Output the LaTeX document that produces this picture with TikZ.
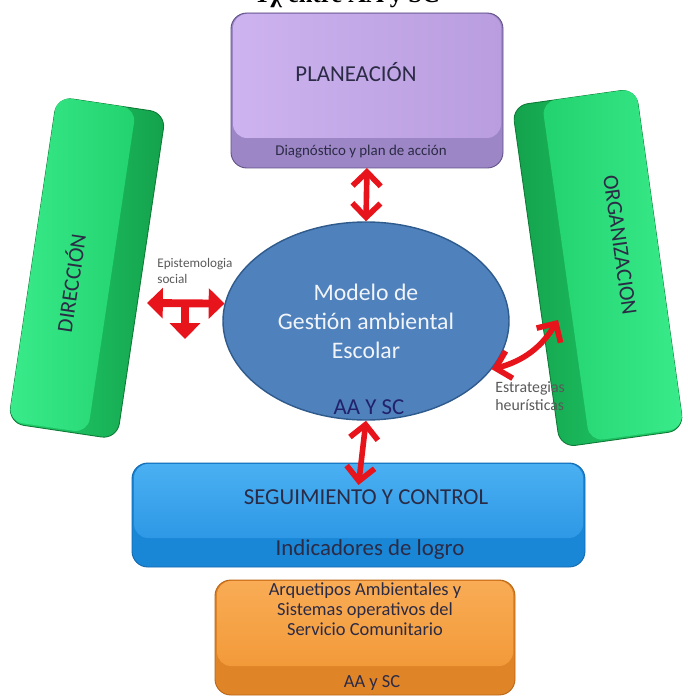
\documentclass[tikz,border=0pt]{standalone}
\usepackage{fontspec}
\setmainfont{Carlito}
\newfontfamily\titlefont{Liberation Serif}
\usepackage{tikz}
\usetikzlibrary{arrows.meta,positioning,calc,shapes.geometric}
\newcommand{\pxl}{0.02cm}
\definecolor{ink}{HTML}{2B2B45}
\definecolor{redarr}{HTML}{E8141B}
\definecolor{plana}{HTML}{CDB3EF}
\definecolor{planb}{HTML}{B99DDF}
\definecolor{planband}{HTML}{9D86C6}
\definecolor{planedge}{HTML}{5E4F85}
\definecolor{greena}{HTML}{3AEB8B}
\definecolor{greenb}{HTML}{22D26E}
\definecolor{greenside}{HTML}{14A24C}
\definecolor{greenedge}{HTML}{0E7A36}
\definecolor{elfill}{HTML}{4F81BD}
\definecolor{eledge}{HTML}{2F5A8C}
\definecolor{bluea}{HTML}{4AB0F2}
\definecolor{blueb}{HTML}{2E98E6}
\definecolor{blueband}{HTML}{1A86D6}
\definecolor{blueedge}{HTML}{1268AE}
\definecolor{orangea}{HTML}{F9AC55}
\definecolor{orangeb}{HTML}{F29A3A}
\definecolor{orangeband}{HTML}{E08428}
\definecolor{orangeedge}{HTML}{B86414}

\begin{document}
\begin{tikzpicture}[x=\pxl,y=-\pxl,
  base/.style={rounded corners=9pt,inner sep=0pt,outer sep=0pt,line width=0.5pt},
  face/.style={rounded corners=8pt,inner sep=0pt,outer sep=0pt},
  lab/.style={font=\fontsize{13}{16}\selectfont,text=ink,align=center},
  small/.style={font=\fontsize{8.5}{10}\selectfont,text=ink,align=center},
  note/.style={text=black!65,align=left,inner sep=0pt},
  link/.style={draw=redarr,line width=3.2pt,{Straight Barb[length=8pt,width=16pt]}-{Straight Barb[length=8pt,width=16pt]}},
  tee/.style={draw=redarr,line width=4.5pt,-{Triangle[length=9pt,width=17pt]}}]
\useasboundingbox (0,0) rectangle (687,699);
\node[font=\titlefont\bfseries\fontsize{14}{16}\selectfont,anchor=base] (titulo) at (347,3) {Tχ entre AA y SC};

\node[base,draw=planedge,fill=planband,minimum width=272*\pxl,minimum height=155*\pxl] (plan) at (367,90.5) {};
\node[face,left color=plana,right color=planb,minimum width=268*\pxl,minimum height=124*\pxl] (planface) at (367,76) {};
\node[lab] (plantxt) at (356,72) {PLANEACIÓN};
\node[small] (planbase) at (361,152) {Diagnóstico y plan de acción};

\node[base,draw=greenedge,left color=greenb,right color=greenside,rotate=-8.5,minimum width=110*\pxl,minimum height=330*\pxl] (direc) at (87,268) {};
\node[face,left color=greena,right color=greenb,rotate=-8.5,anchor=north west,minimum width=80*\pxl,minimum height=328*\pxl] (direcface) at (direc.north west) {};
\node[lab,font=\fontsize{12.5}{15}\selectfont,rotate=81.5] (directxt) at (70,283) {DIRECCIÓN};

\node[base,draw=greenedge,left color=greenside,right color=greenb,rotate=8,minimum width=125*\pxl,minimum height=345*\pxl] (organ) at (598,268) {};
\node[face,left color=greenb,right color=greena,rotate=8,anchor=north east,minimum width=95*\pxl,minimum height=343*\pxl] (organface) at (organ.north east) {};
\node[lab,font=\fontsize{12.5}{15}\selectfont,rotate=-82] (organtxt) at (620,245) {ORGANIZACION};

\node[ellipse,draw=eledge,line width=0.8pt,fill=elfill,minimum width=286*\pxl,minimum height=198*\pxl,inner sep=0pt,
  text=white!92!elfill,align=center,font=\fontsize{13.5}{16.5}\selectfont] (modelo) at (366,321) {Modelo de\\ Gestión ambiental\\ Escolar};
\node[lab,text=ink!80!blue] (modelobase) at (369,407) {AA Y SC};

\node[base,draw=blueedge,fill=blueband,minimum width=453*\pxl,minimum height=104*\pxl] (seguim) at (358.5,515) {};
\node[face,top color=bluea,bottom color=blueb,minimum width=449*\pxl,minimum height=74*\pxl] (seguimface) at (358.5,501) {};
\node[lab] (seguimtxt) at (366,497) {SEGUIMIENTO Y CONTROL};
\node[lab] (seguimbase) at (370,550) {Indicadores de logro};

\node[base,draw=orangeedge,fill=orangeband,minimum width=300*\pxl,minimum height=115*\pxl] (arquet) at (365,637.5) {};
\node[face,top color=orangea,bottom color=orangeb,minimum width=296*\pxl,minimum height=85*\pxl] (arquetface) at (365,623.5) {};
\node[lab,font=\fontsize{10.5}{11.5}\selectfont] (arquettxt) at (365,609) {Arquetipos Ambientales y\\ Sistemas operativos del\\ Servicio Comunitario};
\node[lab,font=\fontsize{10.5}{12}\selectfont] (arquetbase) at (372,683) {AA y SC};

\coordinate (tleft) at (147,303);
\coordinate (tjunc) at (185,303);
\coordinate (tdown) at (185,339);
\coordinate (orgtip) at (558,320);
\draw[link] (plan.south) -- (modelo.north);
\draw[link] (modelo.south) -- ($(seguim.north)+(0,22)$);
\draw[tee,{Triangle[length=9pt,width=17pt]}-{Triangle[length=9pt,width=17pt]}] (tleft) -- (modelo.173);
\draw[tee] (tjunc) -- (tdown);
\draw[link] (modelo.-21) to[bend right=22] (orgtip);

\node[note,font=\fontsize{7.5}{9}\selectfont,anchor=north west] (epist) at (157,258) {Epistemologia\\ social};
\node[note,font=\fontsize{9}{10.5}\selectfont,anchor=north west] (estrat) at (495,381) {Estrategias\\ heurísticas};
\end{tikzpicture}
\end{document}
